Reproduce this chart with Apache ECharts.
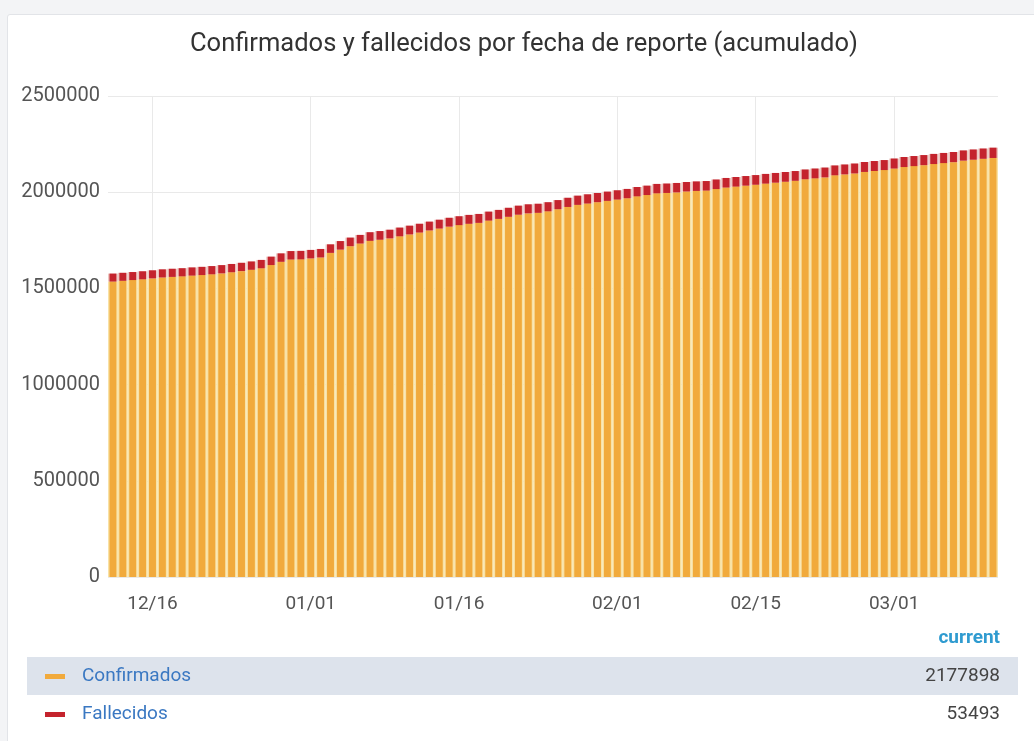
<!DOCTYPE html>
<html>
<head>
<meta charset="utf-8">
<script src="https://cdn.jsdelivr.net/npm/echarts@6/dist/echarts.min.js"></script>
<style>
  html, body { margin: 0; padding: 0; width: 1034px; height: 741px; background: #f3f4f6; overflow: hidden; }
  #panel { position: absolute; left: 7px; top: 14px; width: 1040px; height: 740px; background: #fff; border: 1px solid #e2e4e8; border-radius: 3px; }
  #chart { position: absolute; left: 0; top: 0; width: 1034px; height: 741px; }
</style>
</head>
<body>
<div id="panel"></div>
<div id="chart"></div>
<script>
const TITLE = 'Confirmados y fallecidos por fecha de reporte (acumulado)';

const dates = [
  '12/12','12/13','12/14','12/15','12/16','12/17','12/18','12/19','12/20','12/21',
  '12/22','12/23','12/24','12/25','12/26','12/27','12/28','12/29','12/30','12/31',
  '01/01','01/02','01/03','01/04','01/05','01/06','01/07','01/08','01/09','01/10',
  '01/11','01/12','01/13','01/14','01/15','01/16','01/17','01/18','01/19','01/20',
  '01/21','01/22','01/23','01/24','01/25','01/26','01/27','01/28','01/29','01/30',
  '01/31','02/01','02/02','02/03','02/04','02/05','02/06','02/07','02/08','02/09',
  '02/10','02/11','02/12','02/13','02/14','02/15','02/16','02/17','02/18','02/19',
  '02/20','02/21','02/22','02/23','02/24','02/25','02/26','02/27','02/28','03/01',
  '03/02','03/03','03/04','03/05','03/06','03/07','03/08','03/09','03/10','03/11'
];

const tickLabels = ['12/16', '01/01', '01/16', '02/01', '02/15', '03/01'];

const confirmados = [
  1535593,1539433,1543273,1547118,1551968,1556823,1559728,1562650,1566490,1569330,
  1573175,1578025,1583880,1589785,1596707,1604547,1621387,1638232,1650082,1650937,
  1655842,1660764,1684604,1701444,1719289,1733139,1746994,1752899,1759821,1770661,
  1780501,1790346,1801196,1811051,1820956,1828878,1835718,1840558,1852403,1861253,
  1872108,1883013,1889935,1892775,1900615,1911460,1923310,1934165,1941070,1947992,
  1954832,1961672,1968517,1978367,1985222,1994127,1996049,1998889,2003729,2006574,
  2008424,2016279,2024184,2029106,2033946,2038786,2044631,2049481,2054336,2059241,
  2067163,2072003,2076843,2087688,2092538,2097393,2105298,2110220,2115060,2122900,
  2130745,2135595,2140450,2146355,2151277,2156117,2163957,2168802,2173652,2177898
];

const fallecidos = [
  41407,41567,41727,41882,42032,42177,42272,42350,42510,42670,
  42825,42975,43120,43215,43293,43453,43613,43768,43918,44063,
  44158,44236,44396,44556,44711,44861,45006,45101,45179,45339,
  45499,45654,45804,45949,46044,46122,46282,46442,46597,46747,
  46892,46987,47065,47225,47385,47540,47690,47835,47930,48008,
  48168,48328,48483,48633,48778,48873,48951,49111,49271,49426,
  49576,49721,49816,49894,50054,50214,50369,50519,50664,50759,
  50837,50997,51157,51312,51462,51607,51702,51780,51940,52100,
  52255,52405,52550,52645,52723,52883,53043,53198,53348,53493
];

const yTicks = [0, 500000, 1000000, 1500000, 2000000, 2500000];

const seriesNames = ['Confirmados', 'Fallecidos'];
const COL_CONF = '#F1AA3C';
const COL_FALL = '#C4232D';
const FONT = 'Roboto';

const isTick = (idx, val) => tickLabels.indexOf(dates[idx]) >= 0;

const chart = echarts.init(document.getElementById('chart'), null, { renderer: 'canvas' });

const lastConf = confirmados[confirmados.length - 1];
const lastFall = fallecidos[fallecidos.length - 1];

const legendRows = [
  { name: seriesNames[0], color: COL_CONF, value: lastConf, y: 676, bg: true },
  { name: seriesNames[1], color: COL_FALL, value: lastFall, y: 714, bg: false }
];

const graphics = [
  { type: 'text', right: 34, top: 629, style: { text: 'current', fill: '#2f9bd0', font: 'bold 19px ' + FONT } }
];
legendRows.forEach(r => {
  if (r.bg) graphics.push({ type: 'rect', shape: { x: 27, y: r.y - 19, width: 991, height: 38 }, style: { fill: '#dde3ec' } });
  graphics.push({ type: 'rect', shape: { x: 45, y: r.y - 2, width: 20, height: 5 }, style: { fill: r.color } });
  graphics.push({ type: 'text', x: 82, y: r.y, style: { text: r.name, fill: '#3a78c2', font: '19px ' + FONT, textVerticalAlign: 'middle' } });
  graphics.push({ type: 'text', x: 1000, y: r.y, style: { text: String(r.value), fill: '#444', font: '19px ' + FONT, textAlign: 'right', textVerticalAlign: 'middle' } });
});

const option = {
  animation: false,
  title: {
    text: TITLE,
    left: 185,
    top: 27,
    textStyle: { fontFamily: FONT, fontSize: 25.5, fontWeight: 'normal', color: '#333' }
  },
  grid: { left: 108, right: 36, top: 96, bottom: 164, containLabel: false },
  xAxis: [
    {
      type: 'category',
      data: dates,
      boundaryGap: true,
      axisLine: { show: false },
      axisTick: { show: false },
      axisLabel: { interval: isTick, margin: 18, color: '#555', fontFamily: FONT, fontSize: 19 },
      splitLine: { show: true, interval: isTick, alignWithLabel: true, lineStyle: { color: '#e9e9e9', width: 1 } }
    },
    {
      type: 'category',
      data: dates,
      boundaryGap: true,
      show: false
    }
  ],
  yAxis: {
    type: 'value',
    min: yTicks[0],
    max: yTicks[yTicks.length - 1],
    interval: yTicks[1] - yTicks[0],
    axisLine: { show: false },
    axisTick: { show: false },
    axisLabel: { margin: 8, color: '#555', fontFamily: FONT, fontSize: 20, formatter: v => String(v) },
    splitLine: { show: true, lineStyle: { color: '#e9e9e9', width: 1 } }
  },
  series: [
    {
      name: 'bgConf', type: 'bar', xAxisIndex: 1, stack: 'bg', data: confirmados,
      barCategoryGap: '0%', silent: true, z: 1,
      itemStyle: { color: '#f8e2a6' }
    },
    {
      name: 'bgFall', type: 'bar', xAxisIndex: 1, stack: 'bg', data: fallecidos,
      barCategoryGap: '0%', silent: true, z: 1,
      itemStyle: { color: '#edc7c2' }
    },
    {
      name: seriesNames[0], type: 'bar', xAxisIndex: 0, stack: 'total', data: confirmados,
      barCategoryGap: '30%', z: 2,
      itemStyle: { color: COL_CONF }
    },
    {
      name: seriesNames[1], type: 'bar', xAxisIndex: 0, stack: 'total', data: fallecidos,
      barCategoryGap: '30%', z: 2,
      itemStyle: { color: COL_FALL }
    }
  ],
  graphic: graphics
};

chart.setOption(option);
</script>
</body>
</html>
